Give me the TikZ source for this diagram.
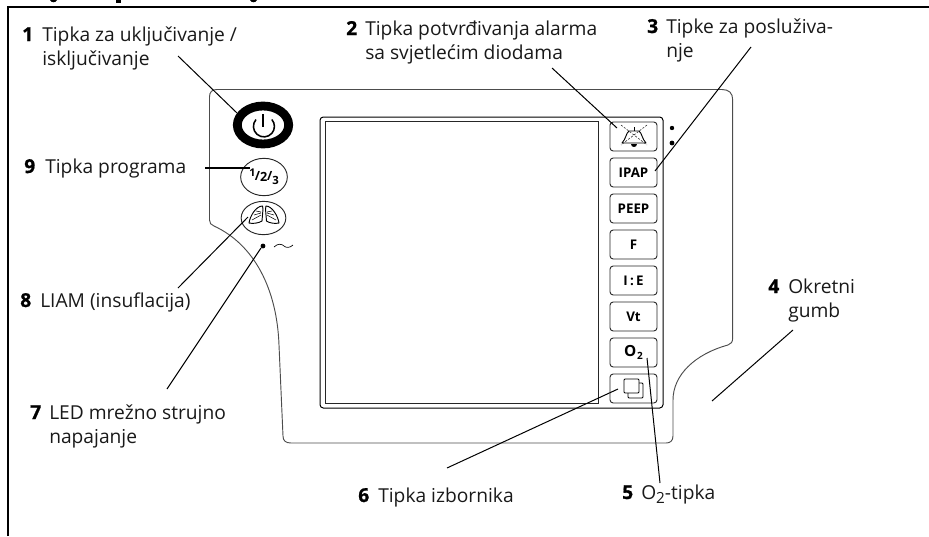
\documentclass[tikz,border=0pt]{standalone}
\usepackage{fontspec}
\setmainfont{Open Sans}
\usetikzlibrary{shapes.geometric,calc}
\newcommand{\twolines}[2]{\vtop{\baselineskip=18pt\hbox{#1}\hbox{#2}}}
\tikzset{
  label text/.style={anchor=base west,inner sep=0pt,font=\fontsize{14.4}{16}\selectfont,text=black!90},
  num text/.style={anchor=base west,inner sep=0pt,font=\fontsize{14.4}{16}\selectfont\bfseries\addfontfeature{FakeBold=1}},
  keybtn/.style={draw=black!85,line width=0.7pt,rounded corners=2.4pt,minimum width=35.25pt,minimum height=21.75pt,inner sep=0pt,font=\fontsize{10}{12}\selectfont\bfseries},
  oval/.style={ellipse,draw=black!85,line width=0.7pt,inner sep=0pt},
  leader/.style={draw=black,line width=0.75pt},
  outline/.style={draw=black!70,line width=0.7pt},
  dashx/.style={draw=black!80,line width=0.45pt,dash pattern=on 1.6pt off 1.1pt}
}
\begin{document}
\begin{tikzpicture}[x=0.75pt,y=-0.75pt]
\useasboundingbox (0,0) rectangle (929,536);
% cut-off title remains
\fill (50,0) .. controls (51,3) and (56,3) .. (57,0) -- cycle;
\fill (116,0) rectangle (121,3);
\fill (250,0) .. controls (251,3) and (256,3) .. (257,0) -- cycle;
% frame
\draw[line width=1.6pt] (8,536) -- (8,7) -- (929,7);
% panel
\draw[outline] (209.5,97) .. controls (209.5,92) and (212,89.5) .. (217,89.5)
  -- (722,89.5) .. controls (729,89.5) and (732.7,93) .. (732.7,100)
  -- (732.7,338) .. controls (732.7,342) and (731,344) .. (728,345)
  .. controls (695,354) and (673,375) .. (673,400)
  -- (673,436) .. controls (673,441) and (670,443) .. (666,443)
  -- (291,443) .. controls (286,443) and (283,441) .. (283,436)
  -- (279,345) .. controls (277,290) and (255,245) .. (214,226)
  .. controls (211,225) and (209.5,223) .. (209.5,220) -- cycle;
% display
\node[draw=black,line width=0.75pt,rounded corners=2.5pt,minimum width=257.25pt,minimum height=218.25pt,inner sep=0pt] (bezel) at (491.5,262.5) {};
\node[draw=black!85,line width=0.7pt,minimum width=204.75pt,minimum height=211.5pt,inner sep=0pt] (screen) at (461.5,262.5) {};
% keys
\node[keybtn] (alarm) at (633.5,136.5) {};
\node[keybtn] (ipap) at (633.5,172.5) {IPAP};
\node[keybtn] (peep) at (633.5,208.5) {PEEP};
\node[keybtn] (f) at (633.5,244.5) {F};
\node[keybtn] (ie) at (633.5,280.5) {I\,:\,E};
\node[keybtn] (vt) at (633.5,316.5) {Vt};
\node[keybtn,font=\fontsize{11.5}{13}\selectfont\bfseries] (otwo) at (633.5,352.5) {\raisebox{0.5pt}{O\kern0.5pt\raisebox{-2pt}{\fontsize{7.5}{9}\selectfont 2}}};
\node[keybtn] (menu) at (633.5,388.5) {};
% bell icon
\draw[line width=0.7pt,line join=round] (622,143) .. controls (626,139) and (626,133) .. (629,131) -- (639,131) .. controls (642,133) and (642,139) .. (646,143) -- cycle;
\draw[line width=0.7pt] (634,127) -- (634,131);
\fill (631,144) .. controls (631,147.5) and (637,147.5) .. (637,144) -- cycle;
\draw[dashx] (621,125) -- (647,145);
\draw[dashx] (647,125) -- (621,145);
% menu icon
\draw[line width=0.7pt,rounded corners=0.8pt] (639,383) -- (643,383) -- (643,398) -- (628,398) -- (628,393);
\draw[line width=0.7pt,rounded corners=0.8pt] (624,379) rectangle (639,393);
% LEDs
\fill (672,128) circle[radius=2.2];
\fill (672,143) circle[radius=2.4];
% power
\node[ellipse,draw=black,line width=6.6pt,fill=white,minimum width=38.5pt,minimum height=28.5pt,inner sep=0pt] (power) at (263,125) {};
\draw[line width=1.15pt] (256,119.5) arc[start angle=221,end angle=-41,radius=10.5];
\draw[line width=1.15pt] (263,114) -- (263,127);
% program
\node[oval,minimum width=35pt,minimum height=28pt,font=\fontsize{9.5}{11}\selectfont\bfseries] (prog) at (264,177) {\raisebox{3pt}{\fontsize{8}{9}\selectfont 1}\kern-0.3pt/\raisebox{-0.5pt}{2}\kern-0.3pt/\raisebox{-3pt}{\fontsize{8.5}{9}\selectfont 3}};
% lungs
\node[oval,minimum width=33.5pt,minimum height=25pt] (lung) at (263.5,218) {};
\draw[line width=0.7pt,line join=round] (262.5,206) .. controls (256,206) and (250,216) .. (249,223) .. controls (253,224) and (259,223) .. (262,221) -- (263,209) -- cycle;
\draw[line width=0.7pt,line join=round] (266,206) .. controls (272,206) and (278,216) .. (279,223) .. controls (275,224) and (269,223) .. (266.5,221) -- (265.5,209) -- cycle;
\draw[line width=0.4pt] (252,220) -- (261,215) (254,215) -- (261,213) (256,211) -- (261,212) (276,220) -- (267,215) (274,215) -- (267,213) (272,211) -- (267,212);
% power LED
\fill (263,246) circle[radius=2.4];
\draw[line width=0.5pt] (274,247) .. controls (278,243) and (282,244) .. (284,246) .. controls (286,248) and (290,248) .. (293,245);
% labels
\node[num text] at (22,41) {1};
\node[label text] (t1) at (42,41) {\twolines{Tipka za uključivanje /}{isključivanje}};
\node[num text] at (346,35) {2};
\node[label text] (t2) at (365,35) {\twolines{Tipka potvrđivanja alarma}{sa svjetlećim diodama}};
\node[num text] at (647,33) {3};
\node[label text] (t3) at (666,33) {\twolines{Tipke za posluživa-}{nje}};
\node[num text] at (768,293) {4};
\node[label text] (t4) at (788,293) {\twolines{Okretni}{gumb}};
\node[num text] at (622,499) {5};
\node[label text] (t5) at (641,499) {O\raisebox{-3pt}{\fontsize{11.5}{13}\selectfont 2}-tipka};
\node[num text] at (358,502) {6};
\node[label text] (t6) at (378,502) {Tipka izbornika};
\node[num text] at (30,419) {7};
\node[label text] (t7) at (49,419) {\twolines{LED mrežno strujno}{napajanje}};
\node[num text] at (20,307) {8};
\node[label text] (t8) at (40,307) {LIAM (insuflacija)};
\node[num text] at (24,173) {9};
\node[label text] (t9) at (45,173) {Tipka programa};
% leaders
\coordinate (s1) at (178,56);
\coordinate (s2) at (552,68);
\coordinate (s3) at (751,47);
\coordinate (s4) at (793,330);
\coordinate (e4) at (712,401);
\coordinate (s5) at (660,483);
\coordinate (s6) at (447,468);
\coordinate (s7) at (167,389);
\coordinate (s8) at (178,288);
\coordinate (s9) at (205,168);
\draw[leader] (s1) -- ($(power.center)+(-26,-12)$);
\draw[leader] (s2) -- ($(alarm.center)+(-16.5,-8.5)$);
\draw[leader] (s3) -- ($(ipap.center)+(21.5,-1.5)$);
\draw[leader] (s4) -- (e4);
\draw[leader] (s5) -- ($(otwo.center)+(13.5,5.5)$);
\draw[leader] (s6) -- ($(menu.center)+(-15.5,0.5)$);
\draw[leader] (s7) -- ($(lung.center)+(-2.5,30)$);
\draw[leader] (s8) -- ($(lung.center)+(-15.5,-1)$);
\draw[leader,line width=1.1pt] (s9) -- ($(prog.center)+(-14,-9)$);
\end{tikzpicture}
\end{document}
